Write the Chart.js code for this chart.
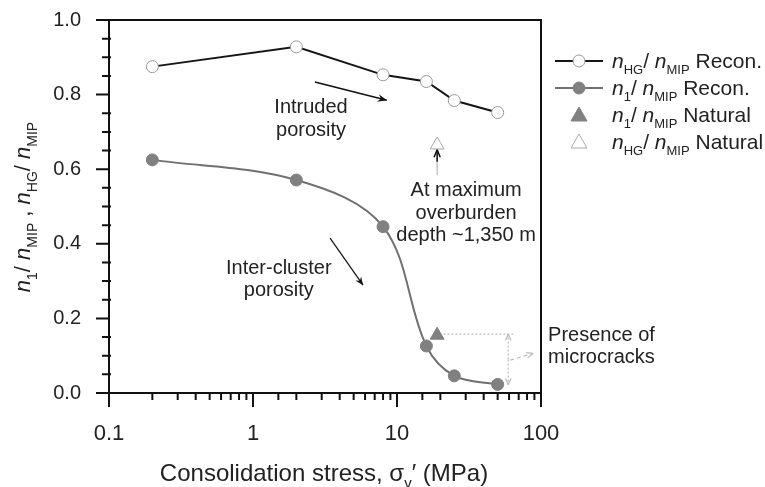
<!DOCTYPE html>
<html>
<head>
<meta charset="utf-8">
<script src="https://cdn.jsdelivr.net/npm/chart.js@4.4.0/dist/chart.umd.min.js"></script>
<style>
  html, body { margin: 0; padding: 0; background: #fff; }
</style>
</head>
<body>
<canvas id="chart" width="765" height="487"></canvas>
<script>
// data
const stressRecon = [0.2, 2, 8, 16, 25, 50];
const hgRecon = [0.875, 0.928, 0.853, 0.835, 0.784, 0.752];
const n1Recon = [0.625, 0.571, 0.446, 0.126, 0.046, 0.023];
const stressNatural = [19];
const n1Natural = [0.155];
const hgNatural = [0.665];
const xTickLabels = [0.1, 1, 10, 100];
const yTickLabels = [0, 0.2, 0.4, 0.6, 0.8, 1.0];

const FONT = '"Liberation Sans", Arial, sans-serif';
const TEXT = '#222';

const toPts = (xs, ys) => xs.map((x, i) => ({ x: x, y: ys[i] }));

// draws text with italic / subscript pieces
function rich(ctx, parts, x, y, size, align) {
  const font = p => (p.it ? 'italic ' : '') + (p.sub ? Math.round(size * 0.62) : size) + 'px ' + FONT;
  let w = 0;
  parts.forEach(p => { ctx.font = font(p); w += ctx.measureText(p.t).width; });
  let cx = align === 'center' ? x - w / 2 : x;
  ctx.textAlign = 'left';
  ctx.textBaseline = 'alphabetic';
  parts.forEach(p => {
    ctx.font = font(p);
    ctx.fillText(p.t, cx, y + (p.sub ? size * 0.3 : 0));
    cx += ctx.measureText(p.t).width;
  });
}

function arrow(ctx, x1, y1, x2, y2, o) {
  ctx.save();
  ctx.strokeStyle = o.color;
  ctx.fillStyle = o.color;
  ctx.lineWidth = o.width || 1;
  ctx.setLineDash(o.dash || []);
  ctx.beginPath();
  ctx.moveTo(x1, y1);
  ctx.lineTo(x2, y2);
  ctx.stroke();
  ctx.setLineDash([]);
  const a = Math.atan2(y2 - y1, x2 - x1);
  const h = o.head || 8;
  ctx.beginPath();
  ctx.moveTo(x2, y2);
  ctx.lineTo(x2 - h * Math.cos(a - 0.4), y2 - h * Math.sin(a - 0.4));
  if (o.open) {
    ctx.moveTo(x2, y2);
  } else {
    ctx.lineTo(x2 - h * 0.6 * Math.cos(a), y2 - h * 0.6 * Math.sin(a));
  }
  ctx.lineTo(x2 - h * Math.cos(a + 0.4), y2 - h * Math.sin(a + 0.4));
  if (o.open) ctx.stroke(); else { ctx.closePath(); ctx.fill(); }
  ctx.restore();
}

const frame = {
  id: 'frame',
  afterDraw(chart) {
    const { ctx, chartArea: a, scales: { x, y } } = chart;
    ctx.save();
    ctx.strokeStyle = '#111';
    ctx.lineWidth = 2;
    ctx.strokeRect(a.left, a.top, a.right - a.left, a.bottom - a.top);
    ctx.beginPath();
    x.ticks.forEach(t => {
      const px = x.getPixelForValue(t.value);
      ctx.moveTo(px, a.bottom);
      ctx.lineTo(px, a.bottom + (t.label ? 14 : 7));
    });
    y.ticks.forEach(t => {
      const py = y.getPixelForValue(t.value);
      ctx.moveTo(a.left - (t.label ? 13 : 7), py);
      ctx.lineTo(a.left + (t.label ? 0 : 2), py);
    });
    ctx.stroke();

    // axis titles
    ctx.fillStyle = TEXT;
    rich(ctx, [{ t: 'Consolidation stress, \u03c3' }, { t: 'v', sub: true }, { t: '\u2032 (MPa)' }],
      324, 481, 24, 'center');
    ctx.save();
    ctx.translate(30, 207);
    ctx.rotate(-Math.PI / 2);
    rich(ctx, [
      { t: 'n', it: true }, { t: '1', sub: true }, { t: '/ ' }, { t: 'n', it: true }, { t: 'MIP', sub: true },
      { t: ' , ' },
      { t: 'n', it: true }, { t: 'HG', sub: true }, { t: '/ ' }, { t: 'n', it: true }, { t: 'MIP', sub: true }
    ], 0, 0, 22, 'center');
    ctx.restore();

    // legend
    const rows = [
      { y: 61, line: '#151515', fill: '#fff', stroke: '#9a9a9a', shape: 'circle', parts: [{ t: 'n', it: true }, { t: 'HG', sub: true }, { t: '/ ' }, { t: 'n', it: true }, { t: 'MIP', sub: true }, { t: ' Recon.' }] },
      { y: 88, line: '#707070', fill: '#808080', stroke: '#808080', shape: 'circle', parts: [{ t: 'n', it: true }, { t: '1', sub: true }, { t: '/ ' }, { t: 'n', it: true }, { t: 'MIP', sub: true }, { t: ' Recon.' }] },
      { y: 115, fill: '#808080', stroke: '#808080', shape: 'tri', parts: [{ t: 'n', it: true }, { t: '1', sub: true }, { t: '/ ' }, { t: 'n', it: true }, { t: 'MIP', sub: true }, { t: ' Natural' }] },
      { y: 142, fill: '#fff', stroke: '#aaa', shape: 'tri', parts: [{ t: 'n', it: true }, { t: 'HG', sub: true }, { t: '/ ' }, { t: 'n', it: true }, { t: 'MIP', sub: true }, { t: ' Natural' }] }
    ];
    rows.forEach(r => {
      if (r.line) {
        ctx.strokeStyle = r.line;
        ctx.lineWidth = 2;
        ctx.beginPath();
        ctx.moveTo(555, r.y);
        ctx.lineTo(603, r.y);
        ctx.stroke();
      }
      ctx.fillStyle = r.fill;
      ctx.strokeStyle = r.stroke;
      ctx.lineWidth = 1;
      ctx.beginPath();
      if (r.shape === 'circle') {
        ctx.arc(579, r.y, 6, 0, Math.PI * 2);
      } else {
        ctx.moveTo(579, r.y - 8);
        ctx.lineTo(587, r.y + 6);
        ctx.lineTo(571, r.y + 6);
        ctx.closePath();
      }
      ctx.fill();
      ctx.stroke();
      ctx.fillStyle = TEXT;
      rich(ctx, r.parts, 612, r.y + 7, 21, 'left');
    });
    ctx.restore();
  }
};

// annotations placed in data units
const notes = {
  id: 'notes',
  afterDatasetsDraw(chart) {
    const { ctx, scales: { x, y } } = chart;
    const X = v => x.getPixelForValue(v);
    const Y = v => y.getPixelForValue(v);
    ctx.save();
    ctx.fillStyle = TEXT;
    ctx.font = '20px ' + FONT;
    ctx.textAlign = 'center';
    ctx.textBaseline = 'middle';
    ctx.fillText('Intruded', X(2.53), Y(0.765));
    ctx.fillText('porosity', X(2.53), Y(0.705));
    ctx.fillText('Inter-cluster', X(1.51), Y(0.335));
    ctx.fillText('porosity', X(1.51), Y(0.275));
    ctx.fillText('At maximum', X(30.2), Y(0.544));
    ctx.fillText('overburden', X(30.2), Y(0.482));
    ctx.fillText('depth ~1,350 m', X(30.2), Y(0.423));
    ctx.textAlign = 'left';
    ctx.fillText('Presence of', X(112), Y(0.155));
    ctx.fillText('microcracks', X(112), Y(0.095));

    arrow(ctx, X(2.69), Y(0.834), X(8.5), Y(0.785), { color: '#111', width: 1.5, head: 10 });
    arrow(ctx, X(3.43), Y(0.415), X(5.81), Y(0.289), { color: '#111', width: 1.2, head: 9 });
    arrow(ctx, X(19), Y(0.584), X(19), Y(0.648), { color: '#aaa', width: 1, head: 0.1 });
    arrow(ctx, X(19), Y(0.62), X(19), Y(0.652), { color: '#111', width: 1.5, head: 8, open: true });

    // microcrack bracket
    ctx.strokeStyle = '#bbb';
    ctx.lineWidth = 1.2;
    ctx.setLineDash([2, 2]);
    ctx.beginPath();
    ctx.moveTo(X(21), Y(0.158));
    ctx.lineTo(X(64), Y(0.158));
    ctx.stroke();
    ctx.restore();
    arrow(ctx, X(59.2), Y(0.09), X(59.2), Y(0.158), { color: '#bbb', width: 1.2, dash: [2, 2], head: 7, open: true });
    arrow(ctx, X(59.2), Y(0.09), X(59.2), Y(0.022), { color: '#bbb', width: 1.2, dash: [2, 2], head: 7, open: true });
    arrow(ctx, X(61), Y(0.088), X(88), Y(0.106), { color: '#bbb', width: 1.2, dash: [4, 3], head: 7, open: true });
  }
};

const isLabel = (v, list) => list.some(t => Math.abs(t - v) <= Math.abs(t) * 1e-6 + 1e-9);

new Chart(document.getElementById('chart'), {
  type: 'scatter',
  data: {
    datasets: [
      {
        label: 'nHG/nMIP Recon.',
        data: toPts(stressRecon, hgRecon),
        showLine: true,
        borderColor: '#151515',
        borderWidth: 2,
        pointRadius: 6,
        pointBackgroundColor: '#fff',
        pointBorderColor: '#9a9a9a',
        pointBorderWidth: 1,
        tension: 0
      },
      {
        label: 'n1/nMIP Recon.',
        data: toPts(stressRecon, n1Recon),
        showLine: true,
        borderColor: '#707070',
        borderWidth: 2,
        pointRadius: 6,
        pointBackgroundColor: '#808080',
        pointBorderColor: '#808080',
        pointBorderWidth: 1,
        tension: 0.35
      },
      {
        label: 'n1/nMIP Natural',
        data: toPts(stressNatural, n1Natural),
        pointStyle: 'triangle',
        pointRadius: 8,
        pointBackgroundColor: '#808080',
        pointBorderColor: '#808080',
        pointBorderWidth: 1
      },
      {
        label: 'nHG/nMIP Natural',
        data: toPts(stressNatural, hgNatural),
        pointStyle: 'triangle',
        pointRadius: 8,
        pointBackgroundColor: '#fff',
        pointBorderColor: '#aaa',
        pointBorderWidth: 1
      }
    ]
  },
  options: {
    responsive: false,
    animation: false,
    layout: { autoPadding: false, padding: { left: 0, top: 20, right: 224, bottom: 0 } },
    plugins: { legend: { display: false }, tooltip: { enabled: false } },
    scales: {
      x: {
        type: 'logarithmic',
        min: 0.1,
        max: 100,
        grid: { display: false, drawTicks: false },
        border: { display: false },
        ticks: {
          autoSkip: false,
          maxRotation: 0,
          padding: 28,
          color: TEXT,
          font: { family: FONT, size: 22 },
          callback: v => isLabel(v, xTickLabels) ? String(+v.toPrecision(3)) : ''
        },
        afterFit: s => { s.height = 94; s.paddingLeft = 0; s.paddingRight = 0; }
      },
      y: {
        min: 0,
        max: 1,
        grid: { display: false, drawTicks: false },
        border: { display: false },
        ticks: {
          stepSize: 0.05,
          autoSkip: false,
          padding: 28,
          color: TEXT,
          font: { family: FONT, size: 20 },
          callback: v => isLabel(v, yTickLabels) ? v.toFixed(1) : ''
        },
        afterFit: s => { s.width = 109; s.paddingTop = 0; s.paddingBottom = 0; }
      }
    }
  },
  plugins: [notes, frame]
});
</script>
</body>
</html>
